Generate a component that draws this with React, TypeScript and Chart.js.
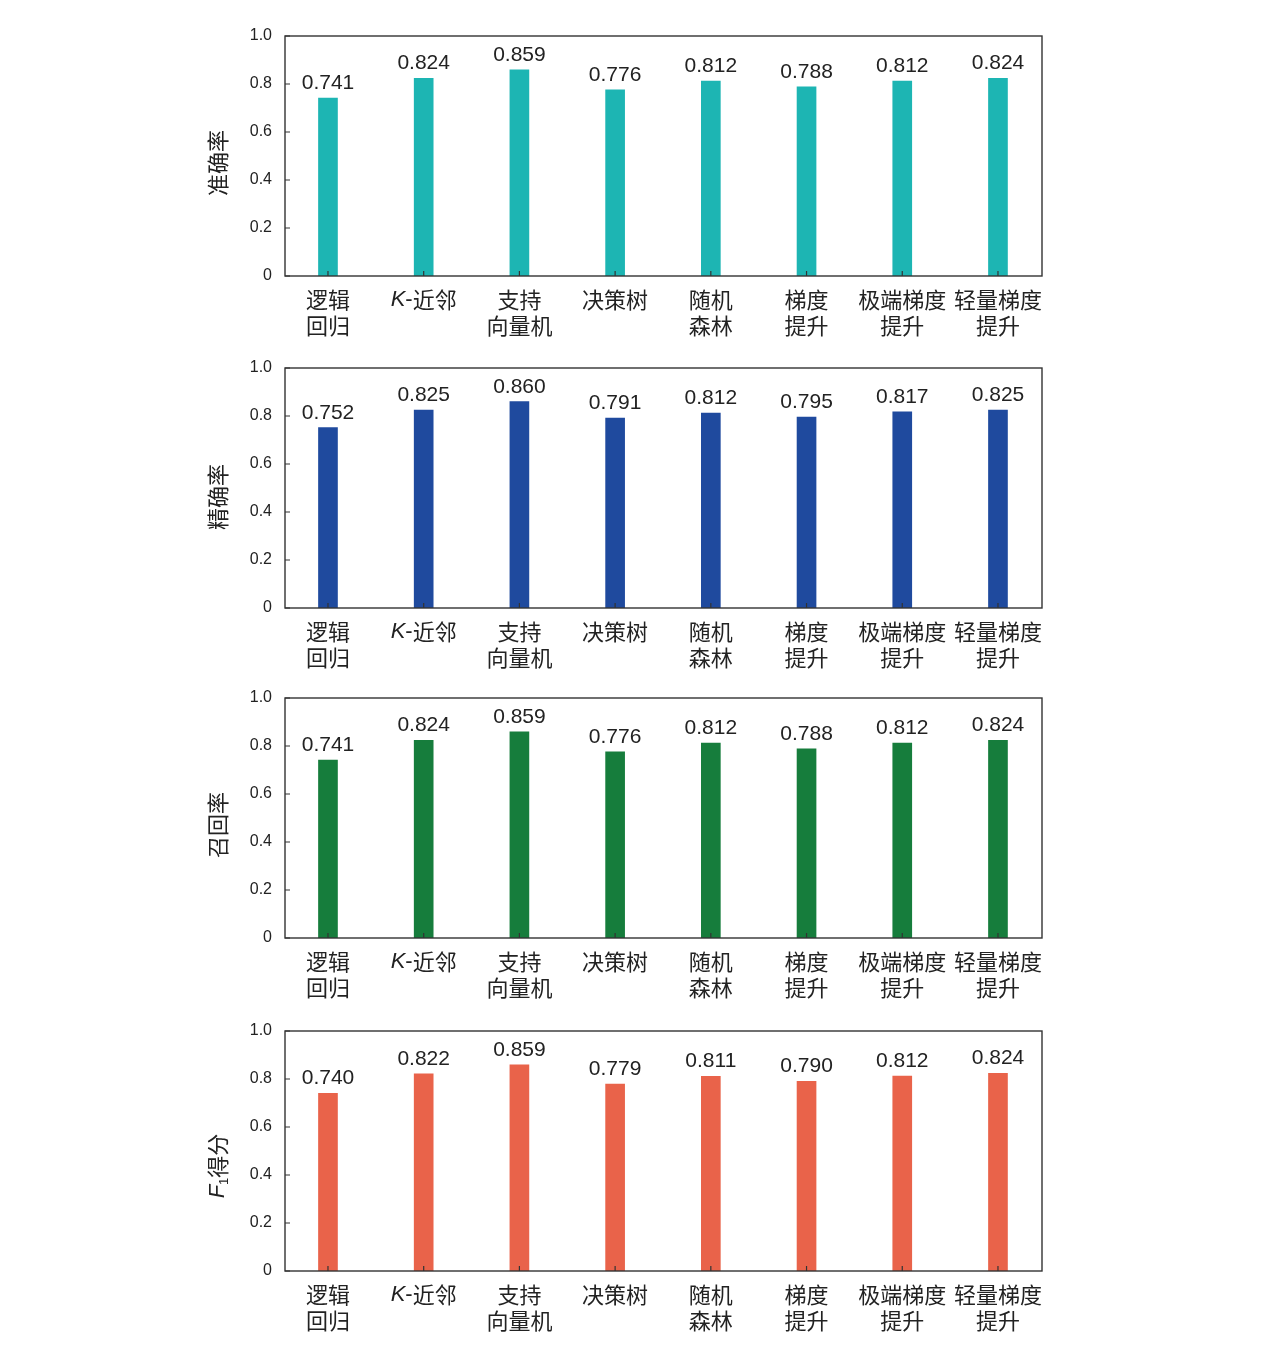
import React, { useEffect, useRef } from 'react';
import { Chart, registerables } from 'chart.js';

Chart.register(...registerables);

// classifier names, one entry per line of the tick label
const methods: string[][] = [
  ['逻辑', '回归'],
  ['K-近邻'],
  ['支持', '向量机'],
  ['决策树'],
  ['随机', '森林'],
  ['梯度', '提升'],
  ['极端梯度', '提升'],
  ['轻量梯度', '提升'],
];

const accuracy = [0.741, 0.824, 0.859, 0.776, 0.812, 0.788, 0.812, 0.824];
const precision = [0.752, 0.825, 0.86, 0.791, 0.812, 0.795, 0.817, 0.825];
const recall = [0.741, 0.824, 0.859, 0.776, 0.812, 0.788, 0.812, 0.824];
const f1Score = [0.74, 0.822, 0.859, 0.779, 0.811, 0.79, 0.812, 0.824];

const yTicks = [0, 0.2, 0.4, 0.6, 0.8, 1.0];

const LATIN = '"Liberation Sans", Arial, sans-serif';
const CJK = '"Noto Sans CJK SC", "Noto Sans", sans-serif';
const INK = '#222';

type Seg = { text: string; font: string; dy: number };

// letters are variables (italic), digits after a letter are subscripts
function splitRich(text: string, size: number): Seg[] {
  const segs: Seg[] = [];
  for (const ch of text) {
    let font: string;
    let dy = 0;
    if (/[A-Za-z]/.test(ch)) font = `italic ${size}px ${LATIN}`;
    else if (/[0-9]/.test(ch)) {
      font = `${Math.round(size * 0.6)}px ${LATIN}`;
      dy = size * 0.3;
    } else if (ch.charCodeAt(0) < 128) font = `${size}px ${LATIN}`;
    else font = `${size}px ${CJK}`;
    const last = segs[segs.length - 1];
    if (last && last.font === font && last.dy === dy) last.text += ch;
    else segs.push({ text: ch, font, dy });
  }
  return segs;
}

function drawRich(ctx: CanvasRenderingContext2D, text: string, x: number, y: number, size: number) {
  const segs = splitRich(text, size);
  let total = 0;
  const widths = segs.map(s => {
    ctx.font = s.font;
    const w = ctx.measureText(s.text).width;
    total += w;
    return w;
  });
  let cx = x - total / 2;
  ctx.textAlign = 'left';
  ctx.textBaseline = 'middle';
  segs.forEach((s, i) => {
    ctx.font = s.font;
    ctx.fillText(s.text, cx, y + s.dy);
    cx += widths[i];
  });
}

interface PanelProps {
  title: string;
  values: number[];
  color: string;
  titleShift: number;
}

const Panel: React.FC<PanelProps> = ({ title, values, color, titleShift }) => {
  const canvasRef = useRef<HTMLCanvasElement>(null);
  const chartRef = useRef<Chart | null>(null);

  useEffect(() => {
    if (!canvasRef.current) return;
    if (chartRef.current) chartRef.current.destroy();
    const ctx = canvasRef.current.getContext('2d');
    if (!ctx) return;

    const decorations = {
      id: 'decorations',
      afterDraw(chart: Chart) {
        const c = chart.ctx;
        const { left, right, top, bottom } = chart.chartArea;
        const xs = chart.scales.x;
        const ys = chart.scales.y;
        c.save();
        c.strokeStyle = '#333';
        c.lineWidth = 1.4;
        c.strokeRect(left, top, right - left, bottom - top);

        // inward tick marks
        c.lineWidth = 1.2;
        c.beginPath();
        yTicks.forEach(v => {
          const py = ys.getPixelForValue(v);
          c.moveTo(left, py);
          c.lineTo(left + 5, py);
        });
        methods.forEach((_, i) => {
          const px = xs.getPixelForValue(i);
          c.moveTo(px, bottom);
          c.lineTo(px, bottom - 5);
        });
        c.stroke();

        // category labels
        c.fillStyle = INK;
        methods.forEach((lines, i) => {
          const px = xs.getPixelForValue(i);
          lines.forEach((ln, j) => drawRich(c, ln, px, bottom + 24 + j * 26, 22));
        });

        // value labels above bars
        c.font = `21px ${LATIN}`;
        c.textAlign = 'center';
        c.textBaseline = 'alphabetic';
        chart.getDatasetMeta(0).data.forEach((bar: any, i: number) => {
          c.fillText(values[i].toFixed(3), bar.x, bar.y - 9);
        });

        // rotated y title
        c.translate(218, (top + bottom) / 2 + titleShift);
        c.rotate(-Math.PI / 2);
        drawRich(c, title, 0, 0, 22);
        c.restore();
      },
    };

    chartRef.current = new Chart(ctx, {
      type: 'bar',
      data: {
        datasets: [
          {
            data: values.map((v, i) => ({ x: i, y: v })),
            backgroundColor: color,
            borderWidth: 0,
            barThickness: 19,
          },
        ],
      },
      options: {
        responsive: true,
        maintainAspectRatio: false,
        animation: false,
        layout: { padding: { top: 36, bottom: 84, left: 0, right: 228 } },
        plugins: {
          legend: { display: false },
          tooltip: { enabled: false },
        },
        scales: {
          x: {
            type: 'linear',
            display: false,
            offset: false,
            grid: { offset: false },
            min: -0.449,
            max: 7.46,
          },
          y: {
            min: 0,
            max: 1,
            grid: { display: false },
            border: { display: false },
            afterFit: (scale: any) => {
              scale.width = 285;
            },
            afterBuildTicks: (scale: any) => {
              scale.ticks = yTicks.map(v => ({ value: v }));
            },
            ticks: {
              padding: 5,
              color: INK,
              font: { family: LATIN, size: 16 },
              callback: (v: any) => (Number(v) === 0 ? '0' : Number(v).toFixed(1)),
            },
          },
        },
      },
      plugins: [decorations],
    } as any);

    return () => {
      if (chartRef.current) {
        chartRef.current.destroy();
        chartRef.current = null;
      }
    };
  }, [title, values, color, titleShift]);

  return <canvas ref={canvasRef}></canvas>;
};

const panels = [
  { title: '准确率', values: accuracy, color: '#1db5b3', titleShift: 7 },
  { title: '精确率', values: precision, color: '#1f4a9e', titleShift: 9 },
  { title: '召回率', values: recall, color: '#167d3c', titleShift: 7 },
  { title: 'F1得分', values: f1Score, color: '#e9634a', titleShift: 15 },
];

const panelTops = [0, 332, 662, 995];

export default function App() {
  return (
    <div style={{ position: 'absolute', left: 0, top: 0, width: 1270, height: 1348, background: '#fff' }}>
      {panels.map((p, i) => (
        <div key={p.title} style={{ position: 'absolute', left: 0, top: panelTops[i], width: 1270, height: 360 }}>
          <Panel {...p} />
        </div>
      ))}
    </div>
  );
}
